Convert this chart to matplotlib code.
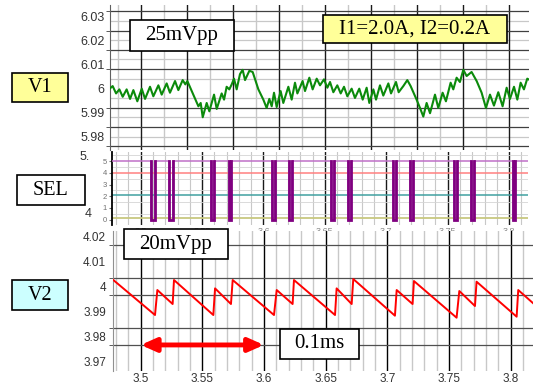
import numpy as np
import matplotlib
matplotlib.use("Agg")
import matplotlib.pyplot as plt
from matplotlib.ticker import FixedLocator, MultipleLocator, NullFormatter
from matplotlib.patches import Rectangle

# ------------------------------------------------------------------ data
# V1 (top trace), time in ms, voltage in V
v1_t = [3.4666, 3.4695, 3.4732, 3.4768, 3.4804, 3.4847, 3.4884, 3.4920, 3.4963, 3.5011,
        3.5047, 3.5101, 3.5137, 3.5192, 3.5228, 3.5282, 3.5318, 3.5373, 3.5409, 3.5456,
        3.5485, 3.5507, 3.5627, 3.5652, 3.5674, 3.5717, 3.5746, 3.5797, 3.5826, 3.5880,
        3.5906, 3.5934, 3.5963, 3.5989, 3.6014, 3.6043, 3.6079, 3.6108, 3.6134, 3.6181,
        3.6217, 3.6279, 3.6333, 3.6369, 3.6398, 3.6424, 3.6449, 3.6478, 3.6521, 3.6550,
        3.6605, 3.6641, 3.6677, 3.6703, 3.6760, 3.6786, 3.6833, 3.6869, 3.6913, 3.6949,
        3.6992, 3.7029, 3.7058, 3.7094, 3.7137, 3.7174, 3.7210, 3.7246, 3.7293, 3.7329,
        3.7376, 3.7413, 3.7456, 3.7485, 3.7529, 3.7558, 3.7601, 3.7637, 3.7692, 3.7721,
        3.7775, 3.7804, 3.7855, 3.7898, 3.7934, 3.7999, 3.8036, 3.8072, 3.8108, 3.8145,
        3.8199, 3.8235, 3.8282, 3.8318, 3.8369, 3.8398, 3.8434, 3.8470, 3.8507, 3.8543,
        3.8597, 3.8652, 3.8706, 3.8753, 3.8797, 3.8840, 3.8887, 3.8934, 3.8978, 3.9014,
        3.9058, 3.9094, 3.9130, 3.9166, 3.9202, 3.9231]
v1_v = [6.0000, 6.0010, 5.9979, 5.9996, 5.9965, 5.9996, 5.9956, 5.9993, 5.9946, 5.9999,
        5.9956, 6.0007, 5.9967, 6.0013, 5.9974, 6.0021, 5.9982, 6.0031, 5.9993, 6.0035,
        6.0017, 6.0031, 5.9925, 5.9939, 5.9879, 5.9939, 5.9904, 5.9974, 5.9914, 5.9979,
        5.9953, 6.0007, 5.9996, 6.0017, 6.0041, 5.9996, 6.0060, 6.0078, 6.0035, 6.0074,
        6.0069, 5.9996, 5.9953, 5.9918, 5.9956, 5.9925, 5.9982, 5.9922, 5.9989, 5.9939,
        6.0007, 5.9953, 6.0024, 5.9979, 6.0031, 5.9989, 6.0045, 5.9996, 6.0041, 6.0013,
        6.0038, 6.0003, 6.0027, 5.9984, 6.0013, 5.9979, 6.0007, 5.9967, 5.9999, 5.9960,
        5.9999, 5.9953, 6.0003, 5.9939, 5.9996, 5.9953, 6.0013, 5.9970, 6.0021, 5.9979,
        6.0027, 5.9984, 6.0010, 6.0035, 6.0010, 5.9953, 5.9918, 5.9882, 5.9939, 5.9896,
        5.9974, 5.9918, 5.9982, 5.9946, 6.0024, 5.9996, 6.0045, 6.0027, 6.0078, 6.0052,
        6.0069, 6.0031, 5.9982, 5.9918, 5.9974, 5.9928, 5.9984, 5.9925, 6.0003, 5.9956,
        6.0007, 5.9953, 6.0024, 5.9996, 6.0041, 6.0035]

# V2 (bottom trace), time in ms, voltage in V
v2_t = [3.4778, 3.5116, 3.5135, 3.5259, 3.5270, 3.5589, 3.5603, 3.5732, 3.5746, 3.6081,
        3.6103, 3.6232, 3.6243, 3.6576, 3.6589, 3.6711, 3.6724, 3.7062, 3.7076, 3.7205,
        3.7216, 3.7562, 3.7584, 3.7711, 3.7724, 3.8049, 3.8062, 3.8184]
v2_v = [4.00267, 3.98867, 3.99867, 3.99307, 4.00267, 3.98867, 3.99933, 3.99307, 4.00267, 3.98867,
        3.99867, 3.99307, 4.00267, 3.98867, 3.99933, 3.99307, 4.00307, 3.98840, 3.99867, 3.99307,
        4.00227, 3.98760, 3.99827, 3.99227, 4.00200, 3.98800, 3.99867, 3.99333]

# SEL logic trace: pulses (low) start / end times in ms
sel_pulse_start = [3.5086, 3.5229, 3.5571, 3.5715, 3.6073, 3.6204, 3.6548, 3.6692, 3.7051,
                   3.7195, 3.7553, 3.7686, 3.8030]
sel_pulse_end = [3.5115, 3.5259, 3.5593, 3.5737, 3.6095, 3.6234, 3.6573, 3.6714, 3.7075,
                 3.7216, 3.7577, 3.7718, 3.8052]
sel_high = 5.0
sel_low = 0.0
sel_b_level = 4.0
sel_c_level = 2.15
sel_d_level = 0.15

v1_ticks = [5.98, 5.99, 6.0, 6.01, 6.02, 6.03]
v1_ticklabels = ["5.98", "5.99", "6", "6.01", "6.02", "6.03"]
v2_ticks = [3.97, 3.98, 3.99, 4.0, 4.01, 4.02]
v2_ticklabels = ["3.97", "3.98", "3.99", "4", "4.01", "4.02"]
t_ticks = [3.5, 3.55, 3.6, 3.65, 3.7, 3.75, 3.8]
t_ticklabels = ["3.5", "3.55", "3.6", "3.65", "3.7", "3.75", "3.8"]
sel_ticks = [0, 1, 2, 3, 4, 5]
sel_ticklabels = ["0", "1", "2", "3", "4", "5"]

arrow_span = [3.5, 3.6]
arrow_level = 3.9767

# ------------------------------------------------------------------ figure
W, H = 539, 387
plt.rcParams['font.family'] = ['Liberation Sans', 'DejaVu Sans']
fig = plt.figure(figsize=(W / 100, H / 100), dpi=100, facecolor='white')


def rect(l, t, r, b):
    return [l / W, 1 - b / H, (r - l) / W, (b - t) / H]


ax1 = fig.add_axes(rect(110, 5, 529, 150))
ax2 = fig.add_axes(rect(112, 152, 528, 225.5))
ax3 = fig.add_axes(rect(113, 231, 533, 371))

for ax in (ax1, ax2, ax3):
    ax.set_axisbelow(True)
    for s in ('top', 'right', 'bottom'):
        ax.spines[s].set_visible(False)

# ---------------- V1
ax1.set_xlim(3.4666, 3.9221)
ax1.set_ylim(5.97417, 6.0350)
ax1.xaxis.set_major_locator(MultipleLocator(0.05))
ax1.xaxis.set_minor_locator(MultipleLocator(0.025))
ax1.tick_params(axis='x', which='both', length=0, labelbottom=False)
ax1.grid(which='major', axis='x', color='#1a1a1a', lw=1.0)
ax1.grid(which='minor', axis='x', color='#c8c8c8', lw=1.0)
v1_dark = 6.0 + np.arange(-3, 5) * 0.0081
v1_light = v1_dark + 0.00405
ax1.yaxis.set_major_locator(FixedLocator(v1_ticks))
ax1.set_yticklabels(v1_ticklabels)
ax1.yaxis.set_minor_locator(FixedLocator(v1_dark))
ax1.yaxis.set_minor_formatter(NullFormatter())
ax1.tick_params(axis='y', which='major', length=0, pad=4, labelsize=9, labelcolor='#333333')
ax1.tick_params(axis='y', which='minor', length=3, color='#404040')
ax1.grid(which='minor', axis='y', color='#404040', lw=0.9)
ax1.hlines(v1_light, 0, 1, transform=ax1.get_yaxis_transform(), color='#c8c8c8', lw=0.9, zorder=0.5)
ax1.spines['left'].set_color('#606060')
ax1.spines['left'].set_linewidth(0.8)
ax1.plot(v1_t, v1_v, color='#0b8a0b', lw=1.5, zorder=3)

# ---------------- SEL
ax2.set_xlim(3.47663, 3.81539)
ax2.set_ylim(-0.496, 5.786)
ax2.xaxis.set_major_locator(FixedLocator(t_ticks))
ax2.set_xticklabels(t_ticklabels)
ax2.xaxis.set_minor_locator(MultipleLocator(0.01))
ax2.tick_params(axis='x', which='both', length=0, pad=1.0, labelsize=6.5, labelcolor='#8c8c8c')
ax2.grid(which='major', axis='x', color='#1a1a1a', lw=1.0)
ax2.grid(which='minor', axis='x', color='#c8c8c8', lw=0.8)
ax2.yaxis.set_major_locator(FixedLocator(sel_ticks))
ax2.set_yticklabels(sel_ticklabels)
ax2.yaxis.set_minor_locator(MultipleLocator(0.5))
ax2.tick_params(axis='y', which='major', length=2, pad=1.5, labelsize=5.5, labelcolor='#707070', color='#707070')
ax2.tick_params(axis='y', which='minor', length=0)
ax2.grid(which='minor', axis='y', color='#d4d4d4', lw=0.6)
ax2.spines['left'].set_color('#000000')
ax2.spines['left'].set_linewidth(1.3)
ax2.axhline(sel_b_level, color='#ff8080', lw=1.1, zorder=2)
ax2.axhline(sel_c_level, color='#40a0a0', lw=1.1, zorder=2)
ax2.axhline(sel_d_level, color='#c8c880', lw=1.3, zorder=2)
xs = [ax2.get_xlim()[0]]
ys = [sel_high]
for s, e in zip(sel_pulse_start, sel_pulse_end):
    xs += [s, s, e, e]
    ys += [sel_high, sel_low, sel_low, sel_high]
xs.append(ax2.get_xlim()[1])
ys.append(sel_high)
ax2.plot(xs, ys, color='#c070c8', lw=1.1, zorder=3)
for s, e in zip(sel_pulse_start, sel_pulse_end):
    ax2.plot([s, s, e, e], [sel_high, sel_low, sel_low, sel_high], color='#800080',
             lw=2.0, solid_joinstyle='miter', zorder=4)

# ---------------- V2
ax3.set_xlim(3.47753, 3.81817)
ax3.set_ylim(3.96628, 4.02228)
ax3.xaxis.set_major_locator(FixedLocator(t_ticks))
ax3.set_xticklabels(t_ticklabels)
ax3.xaxis.set_minor_locator(MultipleLocator(0.01))
ax3.tick_params(axis='x', which='both', length=0, pad=1.5, labelsize=8.5, labelcolor='#333333')
ax3.grid(which='major', axis='x', color='#000000', lw=1.0)
ax3.grid(which='minor', axis='x', color='#c8c8c8', lw=1.0)
v2_dark = 4.01 - np.arange(-1, 7) / 150.0
ax3.yaxis.set_major_locator(FixedLocator(v2_ticks))
ax3.set_yticklabels(v2_ticklabels)
ax3.yaxis.set_minor_locator(FixedLocator(v2_dark))
ax3.yaxis.set_minor_formatter(NullFormatter())
ax3.tick_params(axis='y', which='major', length=0, pad=5, labelsize=8.5, labelcolor='#333333')
ax3.tick_params(axis='y', which='minor', length=3, color='#404040')
ax3.grid(which='minor', axis='y', color='#505050', lw=0.9)
ax3.spines['left'].set_color('#909090')
ax3.spines['left'].set_linewidth(0.8)
ax3.plot(v2_t, v2_v, color='#ff0000', lw=1.4, zorder=3)
ax3.annotate('', xy=(arrow_span[0], arrow_level), xytext=(arrow_span[1], arrow_level),
             arrowprops=dict(arrowstyle='<|-|>,head_length=0.9,head_width=0.4', color='#ff0000',
                             lw=3.5, shrinkA=0, shrinkB=0, mutation_scale=10), zorder=5)

# residual labels of the pasted panels
fig.text(80 / W, 1 - 157 / H, '5.', fontsize=9, color='#333333', va='center', ha='left')
fig.text(85 / W, 1 - 214 / H, '4', fontsize=9, color='#333333', va='center', ha='left')


# ---------------- annotation boxes
def box(x0, y0, x1, y1, text, fc, fs=15):
    r = Rectangle((x0 / W, 1 - y1 / H), (x1 - x0) / W, (y1 - y0) / H, transform=fig.transFigure,
                  facecolor=fc, edgecolor='black', lw=1.2, zorder=10)
    fig.add_artist(r)
    fig.text((x0 + x1) / 2 / W, 1 - (y0 + y1) / 2 / H, text, ha='center', va='center',
             fontsize=fs, family='Liberation Serif', color='black', zorder=11)


box(12, 73, 68, 102, 'V1', '#ffff99', 14.5)
box(17, 175, 85, 205, 'SEL', '#ffffff', 14.5)
box(12, 280, 68, 310, 'V2', '#ccffff', 14.5)
box(130, 20, 234, 51, '25mVpp', '#ffffff', 15)
box(323, 15, 507, 43, 'I1=2.0A, I2=0.2A', '#ffff99', 15)
box(124, 229, 228, 259, '20mVpp', '#ffffff', 15)
box(280, 329, 359, 359, '0.1ms', '#ffffff', 15)

fig.savefig('out.png', dpi=100, facecolor='white')
